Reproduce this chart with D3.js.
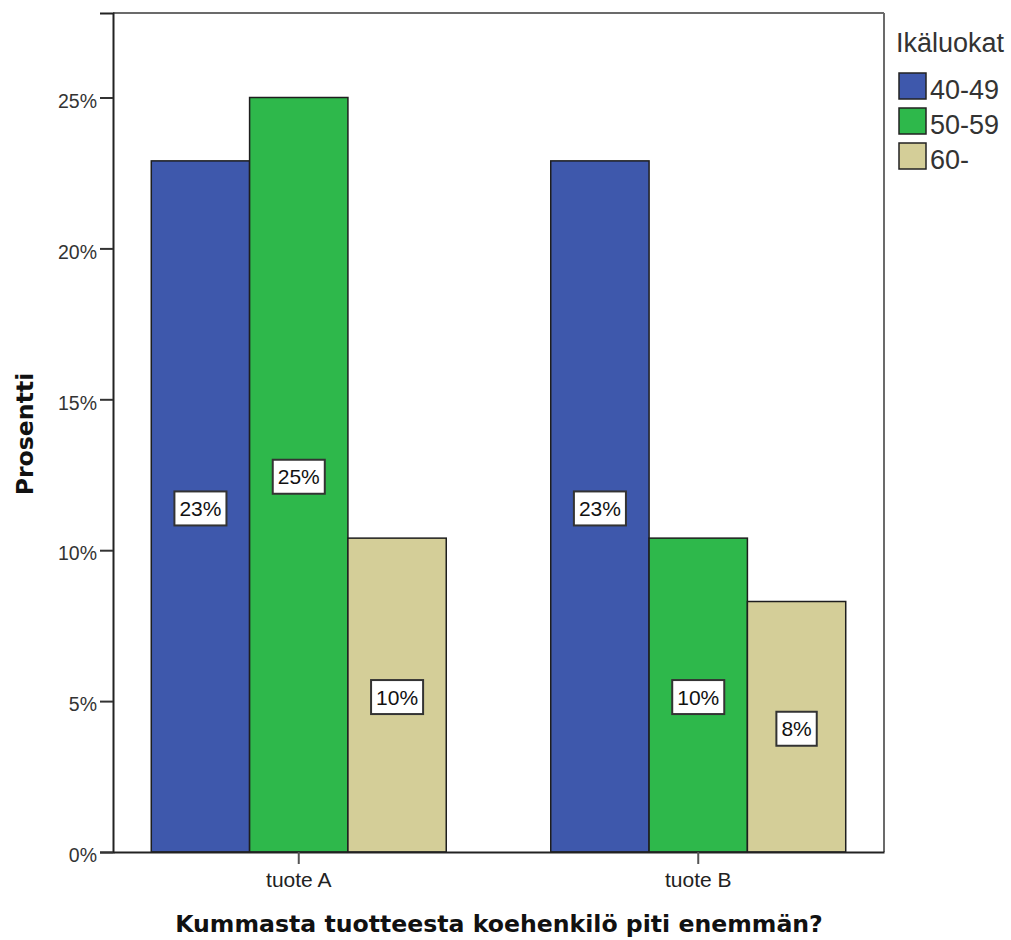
<!DOCTYPE html>
<html>
<head>
<meta charset="utf-8">
<script src="https://cdn.jsdelivr.net/npm/d3@7"></script>
<style>
  html, body { margin: 0; padding: 0; background: #fff; }
  svg { display: block; }
</style>
</head>
<body>
<svg id="chart" width="1011" height="940"></svg>
<script>
// Products (x categories) and age groups (series)
const products = ["tuote A", "tuote B"];
const ageGroups = ["40-49", "50-59", "60-"];
// Percent of respondents per age group, in product order
const values4049 = [22.9, 22.9];
const values5059 = [25.0, 10.4];
const values60 = [10.4, 8.3];
const yTicks = [0, 5, 10, 15, 20, 25];
const seriesColors = ["#3e58ac", "#2eb84b", "#d4ce98"];

const seriesValues = [values4049, values5059, values60];
const rows = [];
products.forEach((p, i) => {
  ageGroups.forEach((g, j) => rows.push({ product: p, group: g, value: seriesValues[j][i] }));
});

const svg = d3.select("#chart");
const plot = { left: 113, right: 884, top: 13, bottom: 852 };
const tickFont = "'Liberation Sans', Arial, sans-serif";

const x0 = d3.scaleBand()
  .domain(products)
  .range([plot.left, plot.right])
  .paddingInner(0.2616)
  .paddingOuter(0.0958);
const x1 = d3.scaleBand()
  .domain(ageGroups)
  .range([0, x0.bandwidth()]);
const y = d3.scaleLinear()
  .domain([0, 27.8])
  .range([plot.bottom, plot.top]);
const color = d3.scaleOrdinal().domain(ageGroups).range(seriesColors);

// Plot frame: light top/right, dark left/bottom
svg.append("line").attr("x1", plot.left).attr("x2", plot.right).attr("y1", plot.top).attr("y2", plot.top)
  .attr("stroke", "#6b6b6b").attr("stroke-width", 2);
svg.append("line").attr("x1", plot.right).attr("x2", plot.right).attr("y1", plot.top).attr("y2", plot.bottom)
  .attr("stroke", "#6b6b6b").attr("stroke-width", 2);

// Bars
const bars = svg.append("g");
bars.selectAll("rect")
  .data(rows)
  .join("rect")
  .attr("x", d => x0(d.product) + x1(d.group))
  .attr("y", d => y(d.value))
  .attr("width", x1.bandwidth())
  .attr("height", d => y(0) - y(d.value))
  .attr("fill", d => color(d.group))
  .attr("stroke", "#1e1e1e")
  .attr("stroke-width", 1.5);

// Value labels in boxes at the middle of each bar
const labels = svg.append("g");
const lab = labels.selectAll("g")
  .data(rows)
  .join("g")
  .attr("transform", d => `translate(${x0(d.product) + x1(d.group) + x1.bandwidth() / 2},${(y(d.value) + y(0)) / 2 + 2})`);
lab.append("text")
  .attr("text-anchor", "middle")
  .attr("dy", "0.36em")
  .attr("font-family", tickFont)
  .attr("font-size", 21)
  .attr("fill", "#111")
  .text(d => Math.round(d.value) + "%")
  .each(function () {
    const w = this.getComputedTextLength();
    d3.select(this.parentNode).insert("rect", "text")
      .attr("x", -w / 2 - 5)
      .attr("y", -17)
      .attr("width", w + 10)
      .attr("height", 34)
      .attr("fill", "#fff")
      .attr("stroke", "#333")
      .attr("stroke-width", 2);
  });

// Y axis
const yAxis = svg.append("g")
  .attr("transform", `translate(${plot.left},0)`)
  .call(d3.axisLeft(y).tickValues(yTicks).tickFormat(d => d + "%").tickSize(13).tickPadding(3));
yAxis.select(".domain").attr("stroke", "#222").attr("stroke-width", 2);
yAxis.selectAll(".tick line").attr("stroke", "#333").attr("stroke-width", 2);
yAxis.selectAll(".tick text")
  .attr("font-family", tickFont).attr("font-size", 19.5).attr("fill", "#333").attr("dy", "0.5em");

// X axis
const xAxis = svg.append("g")
  .attr("transform", `translate(0,${plot.bottom})`)
  .call(d3.axisBottom(x0).tickSize(12).tickPadding(8).tickSizeOuter(0));
xAxis.select(".domain").attr("stroke", "#222").attr("stroke-width", 2);
xAxis.selectAll(".tick line").attr("stroke", "#555").attr("stroke-width", 2);
xAxis.selectAll(".tick text")
  .attr("font-family", tickFont).attr("font-size", 21).attr("fill", "#222");

// Axis titles
svg.append("text")
  .attr("x", 499).attr("y", 932)
  .attr("text-anchor", "middle")
  .attr("font-family", "'DejaVu Sans', Verdana, sans-serif")
  .attr("font-weight", "bold")
  .attr("font-size", 23.6)
  .attr("fill", "#111")
  .text("Kummasta tuotteesta koehenkilö piti enemmän?");
svg.append("text")
  .attr("transform", "translate(33,434) rotate(-90)")
  .attr("text-anchor", "middle")
  .attr("font-family", "'DejaVu Sans', Verdana, sans-serif")
  .attr("font-weight", "bold")
  .attr("font-size", 23.6)
  .attr("fill", "#111")
  .text("Prosentti");

// Legend
const legend = svg.append("g");
legend.append("text")
  .attr("x", 896).attr("y", 52)
  .attr("font-family", tickFont).attr("font-size", 27).attr("fill", "#333")
  .text("Ikäluokat");
const items = legend.selectAll("g.item")
  .data(ageGroups)
  .join("g")
  .attr("class", "item")
  .attr("transform", (d, i) => `translate(899,${73 + i * 35})`);
items.append("rect")
  .attr("width", 27).attr("height", 26)
  .attr("fill", d => color(d))
  .attr("stroke", "#222").attr("stroke-width", 1.5);
items.append("text")
  .attr("x", 31).attr("y", 26)
  .attr("font-family", tickFont).attr("font-size", 27).attr("fill", "#333")
  .text(d => d);
</script>
</body>
</html>
